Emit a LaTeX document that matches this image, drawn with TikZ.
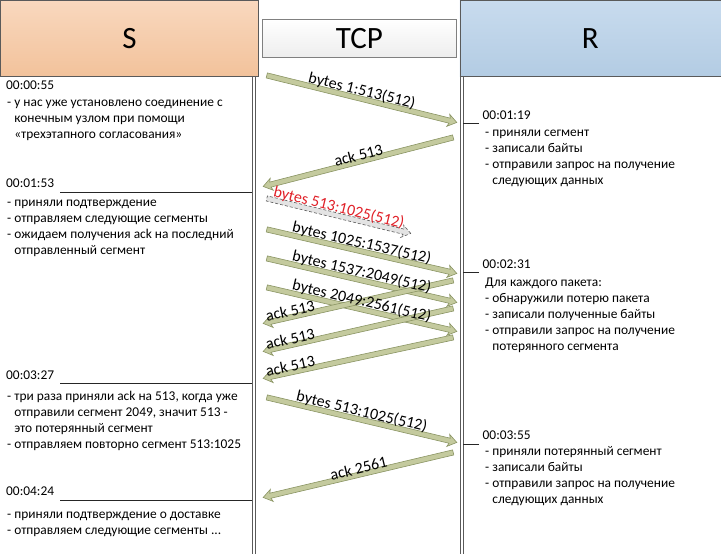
\documentclass[tikz,border=0pt]{standalone}
\usepackage{fontspec}
\setmainfont{Carlito}
\usetikzlibrary{shapes.arrows,calc}
\definecolor{arrfill}{HTML}{C4CA9E}
\definecolor{arrline}{HTML}{8A9463}
\definecolor{redtxt}{HTML}{E02028}
\definecolor{sTop}{HTML}{F9D8BE}
\definecolor{sBot}{HTML}{F2C29B}
\definecolor{rTop}{HTML}{C8DBEE}
\definecolor{rBot}{HTML}{B3CCE3}
\definecolor{frame}{HTML}{5A5A5A}
\newcommand\blkarrow[4][]{%
  \path let \p1=($(#4)-(#3)$), \n1={veclen(\x1,\y1)} in
    (#3) -- (#4) node[midway, sloped, allow upside down, blockarr, minimum height=\n1, #1] (#2) {};
}
\newcommand\hg{\hphantom{-~}}
\begin{document}
\begin{tikzpicture}[x=1pt,y=-1pt,
  hdr/.style={draw=frame, line width=0.8pt, font=\fontsize{31}{31}\selectfont, inner sep=0pt, anchor=north west},
  blockarr/.style={single arrow, draw=arrline, fill=arrfill, line width=0.6pt, inner xsep=0pt, inner ysep=2.3pt, single arrow head extend=3.6pt, single arrow tip angle=70, single arrow head indent=1.5pt},
  lostarr/.style={draw=gray!70!black, fill=gray!22, dash pattern=on 3pt off 2pt},
  lbl/.style={font=\fontsize{16}{16}\selectfont, inner sep=0.5pt},
  stamp/.style={font=\fontsize{13.4}{16}\selectfont, inner sep=0pt, anchor=base west},
  lifebox/.style={draw=frame, line width=0.7pt, inner sep=0pt, minimum width=3, minimum height=490, anchor=north},
  tsrule/.style={draw=black!85, line width=0.7pt}
]
\useasboundingbox (0,0) rectangle (721,554);
% lifelines
\node[lifebox] (SL) at (253.5,76) {};
\node[lifebox] (RL) at (461.5,76) {};
% headers
\node[hdr, top color=sTop, bottom color=sBot, minimum width=258, minimum height=76] (S) at (0,0) {S};
\node[hdr, top color=white, bottom color=black!7, draw=black!50, minimum width=194, minimum height=38] (T) at (262,19) {TCP};
\node[hdr, top color=rTop, bottom color=rBot, minimum width=261, minimum height=76] (R) at (459.5,0) {R};
% arrow end points
\coordinate (a1s) at (265,75);  \coordinate (a1e) at (455,122);
\coordinate (a2s) at (455,137); \coordinate (a2e) at (265,186);
\coordinate (a3s) at (265,198); \coordinate (a3e) at (409,233);
\coordinate (a4s) at (265,229); \coordinate (a4e) at (455,273);
\coordinate (a5s) at (265,258); \coordinate (a5e) at (455,302);
\coordinate (a6s) at (265,287); \coordinate (a6e) at (455,331);
\coordinate (a7s) at (455,280); \coordinate (a7e) at (265,323);
\coordinate (a8s) at (455,308); \coordinate (a8e) at (265,351);
\coordinate (a9s) at (455,337); \coordinate (a9e) at (265,378);
\coordinate (a10s) at (265,397); \coordinate (a10e) at (455,442);
\coordinate (a11s) at (455,452); \coordinate (a11e) at (265,497);
% arrows
\blkarrow{A1}{a1s}{a1e}
\blkarrow{A2}{a2s}{a2e}
\blkarrow[lostarr]{A3}{a3s}{a3e}
\blkarrow{A4}{a4s}{a4e}
\blkarrow{A5}{a5s}{a5e}
\blkarrow{A6}{a6s}{a6e}
\blkarrow{A7}{a7s}{a7e}
\blkarrow{A8}{a8s}{a8e}
\blkarrow{A9}{a9s}{a9e}
\blkarrow{A10}{a10s}{a10e}
\blkarrow{A11}{a11s}{a11e}
% arrow labels
\path (a1s) -- (a1e) node[midway, sloped, above, lbl] (L1) {bytes 1:513(512)};
\path (a2s) -- (a2e) node[midway, sloped, above, lbl] (L2) {ack 513};
\path (a3s) -- (a3e) node[midway, sloped, above, lbl, text=redtxt] (L3) {bytes 513:1025(512)};
\path (a4s) -- (a4e) node[midway, sloped, above, lbl] (L4) {bytes 1025:1537(512)};
\path (a5s) -- (a5e) node[midway, sloped, above, lbl] (L5) {bytes 1537:2049(512)};
\path (a6s) -- (a6e) node[midway, sloped, above, lbl] (L6) {bytes 2049:2561(512)};
\path (a7s) -- (a7e) node[pos=0.86, sloped, above, lbl] (L7) {ack 513};
\path (a8s) -- (a8e) node[pos=0.86, sloped, above, lbl] (L8) {ack 513};
\path (a9s) -- (a9e) node[pos=0.86, sloped, above, lbl] (L9) {ack 513};
\path (a10s) -- (a10e) node[midway, sloped, above, lbl] (L10) {bytes 513:1025(512)};
\path (a11s) -- (a11e) node[midway, sloped, above, lbl] (L11) {ack 2561};
% timestamps and notes
\node[stamp] (t1) at (6,89) {00:00:55};
\node[stamp] (b1) at (7,106.2) {\begin{tabular}[t]{@{}l@{}}- у нас уже установлено соединение с\\\hg конечным узлом при помощи\\\hg «трехэтапного согласования»\end{tabular}};
\node[stamp] (t2) at (482.5,119) {00:01:19};
\node[stamp] (b2) at (485,136.8) {\begin{tabular}[t]{@{}l@{}}- приняли сегмент\\- записали байты\\- отправили запрос на получение\\\hg следующих данных\end{tabular}};
\node[stamp] (t3) at (6,187.3) {00:01:53};
\node[stamp] (b3) at (7,206.2) {\begin{tabular}[t]{@{}l@{}}- приняли подтверждение\\- отправляем следующие сегменты\\- ожидаем получения ack на последний\\\hg отправленный сегмент\end{tabular}};
\node[stamp] (t4) at (482.5,268) {00:02:31};
\node[stamp] (b4) at (485,286.2) {\begin{tabular}[t]{@{}l@{}}Для каждого пакета:\\- обнаружили потерю пакета\\- записали полученные байты\\- отправили запрос на получение\\\hg потерянного сегмента\end{tabular}};
\node[stamp] (t5) at (6,379) {00:03:27};
\node[stamp] (b5) at (7,400.2) {\begin{tabular}[t]{@{}l@{}}- три раза приняли ack на 513, когда уже\\\hg отправили сегмент 2049, значит 513 -\\\hg это потерянный сегмент\\- отправляем повторно сегмент 513:1025\end{tabular}};
\node[stamp] (t6) at (482.5,439) {00:03:55};
\node[stamp] (b6) at (485,455.8) {\begin{tabular}[t]{@{}l@{}}- приняли потерянный сегмент\\- записали байты\\- отправили запрос на получение\\\hg следующих данных\end{tabular}};
\node[stamp] (t7) at (6,495.7) {00:04:24};
\node[stamp] (b7) at (7,518.5) {\begin{tabular}[t]{@{}l@{}}- приняли подтверждение о доставке\\- отправляем следующие сегменты ...\end{tabular}};
% timestamp rules
\coordinate (q1) at (479,123); \draw[tsrule] (q1) -- (q1 -| RL.east);
\coordinate (q2) at (60,192);  \draw[tsrule] (q2) -- (q2 -| SL.west);
\coordinate (q3) at (479,272); \draw[tsrule] (q3) -- (q3 -| RL.east);
\coordinate (q4) at (60,383);  \draw[tsrule] (q4) -- (q4 -| SL.west);
\coordinate (q5) at (479,444); \draw[tsrule] (q5) -- (q5 -| RL.east);
\coordinate (q6) at (60,500);  \draw[tsrule] (q6) -- (q6 -| SL.west);
\end{tikzpicture}
\end{document}
